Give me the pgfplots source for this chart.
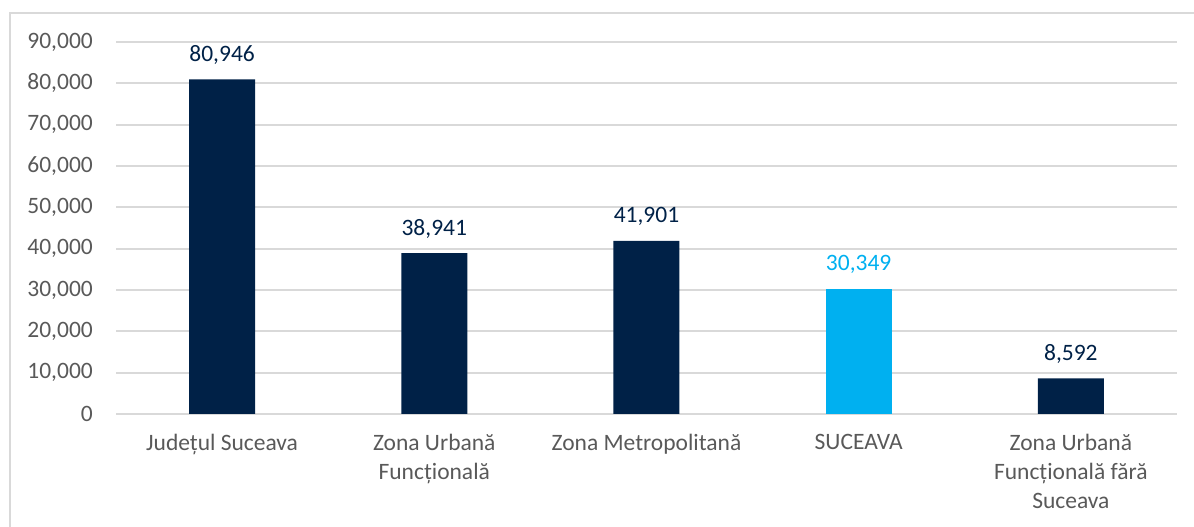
\documentclass[border=0pt]{standalone}
\usepackage{fontspec}
\setmainfont{Carlito}
\usepackage{pgfplots}
\pgfplotsset{compat=1.18}
\definecolor{navy}{HTML}{002147}
\definecolor{sky}{HTML}{00B0F0}
\definecolor{gridgray}{HTML}{D9D9D9}
\definecolor{txt}{HTML}{595959}
\begin{document}
\begin{tikzpicture}[x=1pt,y=1pt]
\useasboundingbox (0,0) rectangle (1194,527);
% chart frame
\draw[gridgray, line width=2pt] (10,-5) -- (10,514) -- (1199,514);
\begin{axis}[
  at={(116pt,113pt)}, anchor=south west,
  width=1061pt, height=372pt, scale only axis,
  xmin=-0.5, xmax=4.5, ymin=0, ymax=90000,
  ytick={0,10000,...,90000},
  xtick={0,...,4},
  xticklabels={Județul Suceava, Zona Urbană\\Funcțională, Zona Metropolitană, SUCEAVA, Zona Urbană\\Funcțională fără\\Suceava},
  scaled y ticks=false,
  ymajorgrids, grid style={gridgray, line width=2pt},
  axis line style={draw=none}, major tick length=0pt,
  ybar, bar width=66pt, bar shift=0pt,
  tick label style={font=\fontsize{23.5}{29}\selectfont, text=txt},
  yticklabel style={inner sep=0pt, xshift=-23pt},
  xticklabel style={inner sep=0pt, yshift=-20pt, align=center},
  every node near coord/.append style={font=\fontsize{23.5}{29}\selectfont, anchor=base, inner sep=0pt, yshift=18pt},
  /pgf/number format/1000 sep={,},
  /pgf/number format/assume math mode=true,
]
\addplot[fill=navy, draw=none, nodes near coords,
  every node near coord/.append style={text=navy}]
  coordinates {(0,80946) (1,38941) (2,41901) (4,8592)};
\addplot[fill=sky, draw=none, nodes near coords,
  every node near coord/.append style={text=sky}]
  coordinates {(3,30349)};
\end{axis}
\end{tikzpicture}
\end{document}
